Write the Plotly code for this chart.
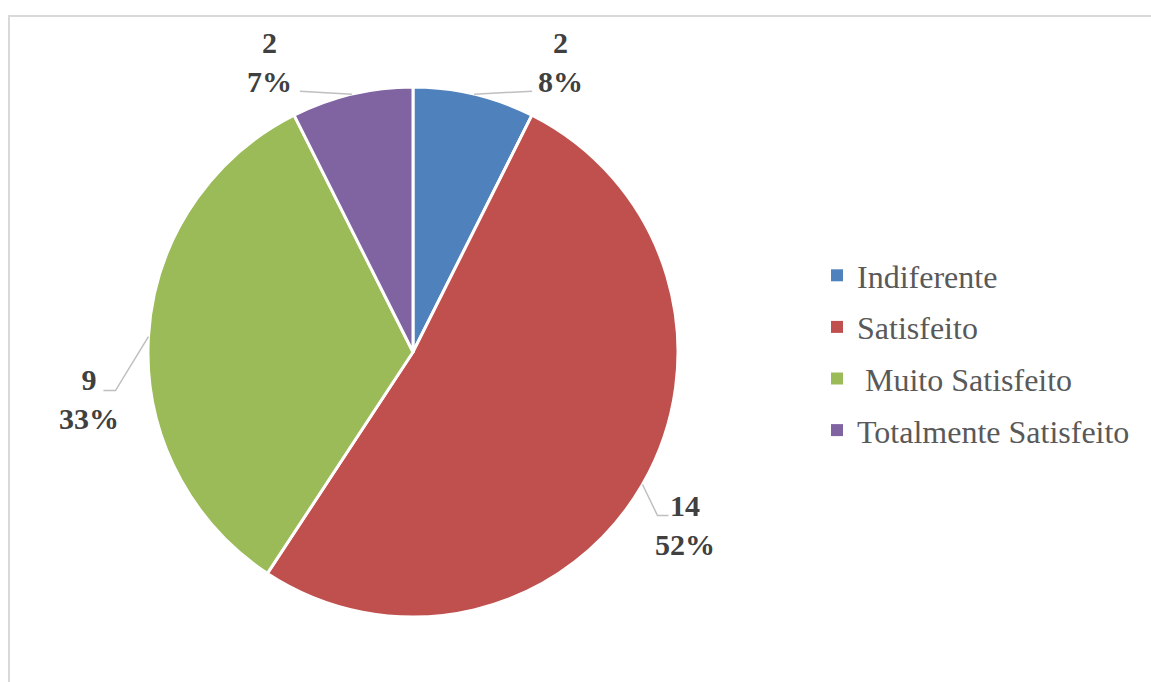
import math
import plotly.graph_objects as go

# Survey answers and their counts
categories = ["Indiferente", "Satisfeito", "\u00a0Muito Satisfeito", "Totalmente Satisfeito"]
counts = [2, 14, 9, 2]
pct_labels = ["8%", "52%", "33%", "7%"]
colors = ["#4F81BD", "#C0504D", "#9BBB59", "#8064A2"]

# Page geometry (pixels)
W, H = 1151, 682
CX, CY, R = 413, 352, 265

SERIF = "Times New Roman, Liberation Serif, DejaVu Serif, serif"

# Label placement relative to each slice's outer mid point (pixels):
# text centre offset, leader elbow offset, leader end offset
label_off = [(86, -32), (43, 40), (-59, 62), (-82, -32)]
elbow_off = [(58, -3), (15, 31), (-33, 54), (-52, -3)]
end_off = [(58, -3), (26, 31), (-45, 54), (-52, -3)]


def px(x):
    return x / W


def py(y):
    return 1 - y / H


fig = go.Figure()

fig.add_trace(go.Pie(
    labels=categories,
    values=counts,
    sort=False,
    direction="clockwise",
    rotation=0,
    textinfo="none",
    showlegend=False,
    marker=dict(colors=colors, line=dict(color="white", width=3)),
    domain=dict(x=[px(CX - R), px(CX + R)], y=[py(CY + R), py(CY - R)]),
))

# Legend entries (one group each so the spacing can be set)
for name, col in zip(categories, colors):
    fig.add_trace(go.Scatter(
        x=[None], y=[None], mode="markers", name=name,
        legendgroup=name,
        marker=dict(symbol="square", size=12, color=col),
    ))

# Data labels with leader lines, placed from each slice's mid angle
total = sum(counts)
cum = 0
annotations = []
shapes = []
for i, v in enumerate(counts):
    mid = (cum + v / 2) / total * 2 * math.pi
    cum += v
    ax_ = CX + R * math.sin(mid)
    ay_ = CY - R * math.cos(mid)
    ex, ey = ax_ + elbow_off[i][0], ay_ + elbow_off[i][1]
    fx, fy = ax_ + end_off[i][0], ay_ + end_off[i][1]
    shapes.append(dict(
        type="path", xref="paper", yref="paper",
        path=f"M {px(ax_)},{py(ay_)} L {px(ex)},{py(ey)} L {px(fx)},{py(fy)}",
        line=dict(color="#BFBFBF", width=1.5),
    ))
    tx, ty = ax_ + label_off[i][0], ay_ + label_off[i][1]
    annotations.append(dict(
        x=px(tx), y=py(ty), xref="paper", yref="paper",
        text=f"<b>{v}</b><br><b>{pct_labels[i]}</b>",
        showarrow=False, xanchor="center", yanchor="middle", align="center",
        font=dict(family=SERIF, size=30, color="#404040"),
    ))

# Chart area border (top and left edges)
shapes.append(dict(
    type="path", xref="paper", yref="paper",
    path=f"M {px(9)},{py(H + 5)} L {px(9)},{py(16)} L {px(W + 5)},{py(16)}",
    line=dict(color="#D9D9D9", width=2),
))

fig.update_layout(
    width=W, height=H,
    margin=dict(l=0, r=0, t=0, b=0),
    paper_bgcolor="white", plot_bgcolor="white",
    xaxis=dict(visible=False), yaxis=dict(visible=False),
    showlegend=True,
    legend=dict(
        x=px(817), y=py(248), xanchor="left", yanchor="top",
        tracegroupgap=7,
        font=dict(family=SERIF, size=32, color="#595959"),
        bgcolor="rgba(0,0,0,0)",
    ),
    annotations=annotations,
    shapes=shapes,
)

fig.write_html("out.html")
